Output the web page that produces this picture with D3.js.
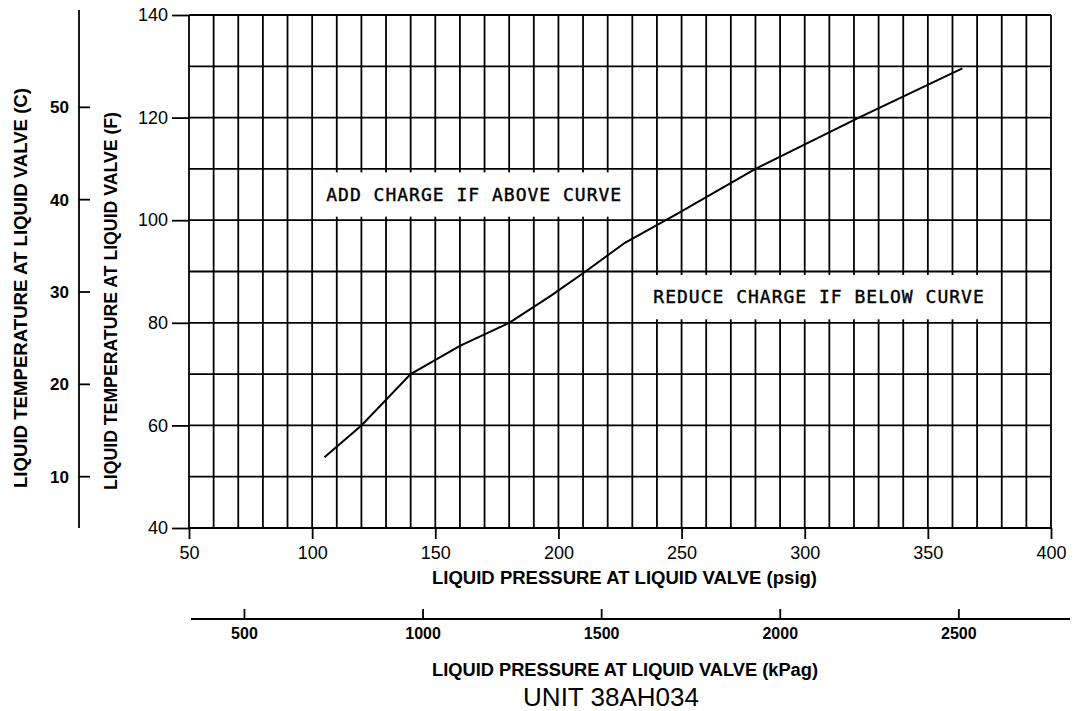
<!DOCTYPE html>
<meta charset="utf-8">
<style>
body { margin: 0; background: #fff; }
svg { display: block; font-family: "Liberation Sans", Arial, sans-serif; }
.grid line { stroke: #000; stroke-width: 1.8px; }
.axis path { display: none; }
.axis line { stroke: #000; stroke-width: 1.8px; }
.axis text { fill: #000; font-size: 18px; }
.axis.bold text { font-weight: bold; font-size: 16px; }
.title { font-weight: bold; font-size: 18px; fill: #000; }
.note { font-family: "DejaVu Sans Mono", monospace; font-size: 18px; letter-spacing: 1px; fill: #000; stroke: #000; stroke-width: 0.4px; }
.curve { fill: none; stroke: #000; stroke-width: 2px; }
</style>
<svg width="1075" height="711"></svg>
<script src="https://cdn.jsdelivr.net/npm/d3@7"></script>
<script>

// charging curve
var psig  = [105, 120, 140, 160, 180, 197, 211, 227, 248, 280, 322, 364];
var tempF = [53.8, 60, 70, 75.5, 80, 85.3, 90, 95.6, 101.2, 110, 120, 129.6];

var psigTicks  = [50, 100, 150, 200, 250, 300, 350, 400];
var tempFTicks = [40, 60, 80, 100, 120, 140];
var tempCTicks = [10, 20, 30, 40, 50];
var kpagTicks  = [500, 1000, 1500, 2000, 2500];

var svg = d3.select("svg");

var x = d3.scaleLinear().domain([50, 400]).range([189, 1051]);
var y = d3.scaleLinear().domain([40, 140]).range([528, 15]);
var yC = function(c) { return y(c * 9 / 5 + 32); };
var xK = function(k) { return x(k / 6.895); };

// grid, every 10 psig and every 10 F
var grid = svg.append("g").attr("class", "grid");
grid.selectAll(".v").data(d3.range(50, 401, 10)).enter().append("line")
    .attr("x1", d => x(d)).attr("x2", d => x(d))
    .attr("y1", y(140)).attr("y2", y(40));
grid.selectAll(".h").data(d3.range(40, 141, 10)).enter().append("line")
    .attr("x1", x(50)).attr("x2", x(400))
    .attr("y1", d => y(d)).attr("y2", d => y(d));

// psig axis
svg.append("g").attr("class", "axis")
    .attr("transform", "translate(0," + y(40) + ")")
    .call(d3.axisBottom(x).tickValues(psigTicks).tickSize(11).tickPadding(7));

// F axis
svg.append("g").attr("class", "axis")
    .attr("transform", "translate(" + x(50) + ",0)")
    .call(d3.axisLeft(y).tickValues(tempFTicks).tickSize(17).tickPadding(4));

// C axis
var cAxis = svg.append("g").attr("class", "axis bold")
    .attr("transform", "translate(79,0)");
cAxis.append("line").attr("x1", 0).attr("x2", 0).attr("y1", 10).attr("y2", y(40));
var ct = cAxis.selectAll(".t").data(tempCTicks).enter().append("g")
    .attr("transform", d => "translate(0," + yC(d) + ")");
ct.append("line").attr("x1", 0).attr("x2", 11);
ct.append("text").attr("x", -10).attr("dy", "0.35em").attr("text-anchor", "end")
    .style("font-size", "17px").text(d => d);

// kPag axis
var kAxis = svg.append("g").attr("class", "axis bold")
    .attr("transform", "translate(0,619)");
kAxis.append("line").attr("x1", 191).attr("x2", 1070);
var kt = kAxis.selectAll(".t").data(kpagTicks).enter().append("g")
    .attr("transform", d => "translate(" + xK(d) + ",0)");
kt.append("line").attr("y1", 0).attr("y2", -10);
kt.append("text").attr("y", 20).attr("text-anchor", "middle").text(d => d);

// notes in white boxes on the grid
function note(p0, p1, t0, t1, txt) {
  svg.append("rect").attr("fill", "#fff")
      .attr("x", x(p0) + 1.5).attr("width", x(p1) - x(p0) - 3)
      .attr("y", y(t1) + 3.5).attr("height", y(t0) - y(t1) - 7);
  svg.append("text").attr("class", "note")
      .attr("x", (x(p0) + x(p1)) / 2 + 2).attr("y", (y(t0) + y(t1)) / 2 + 6)
      .attr("text-anchor", "middle").text(txt);
}
note(100, 230, 100, 110, "ADD CHARGE IF ABOVE CURVE");
note(230, 380, 80, 90, "REDUCE CHARGE IF BELOW CURVE");

// curve
var line = d3.line().x(d => x(d[0])).y(d => y(d[1]));
svg.append("path").attr("class", "curve")
    .attr("d", line(d3.zip(psig, tempF)));

// titles
svg.append("text").attr("class", "title")
    .attr("x", 432).attr("y", 584)
    .attr("textLength", 385).attr("lengthAdjust", "spacingAndGlyphs")
    .text("LIQUID PRESSURE AT LIQUID VALVE (psig)");
svg.append("text").attr("class", "title")
    .attr("x", 432).attr("y", 676)
    .attr("textLength", 386).attr("lengthAdjust", "spacingAndGlyphs")
    .text("LIQUID PRESSURE AT LIQUID VALVE (kPag)");
svg.append("text").attr("class", "title")
    .attr("transform", "translate(117,490) rotate(-90)")
    .attr("textLength", 378).attr("lengthAdjust", "spacingAndGlyphs")
    .text("LIQUID TEMPERATURE AT LIQUID VALVE (F)");
svg.append("text").attr("class", "title")
    .attr("transform", "translate(27,488) rotate(-90)")
    .attr("textLength", 400).attr("lengthAdjust", "spacingAndGlyphs")
    .text("LIQUID TEMPERATURE AT LIQUID VALVE (C)");
svg.append("text")
    .attr("x", 611).attr("y", 706).attr("text-anchor", "middle")
    .style("font-size", "26px")
    .text("UNIT 38AH034");

</script>
